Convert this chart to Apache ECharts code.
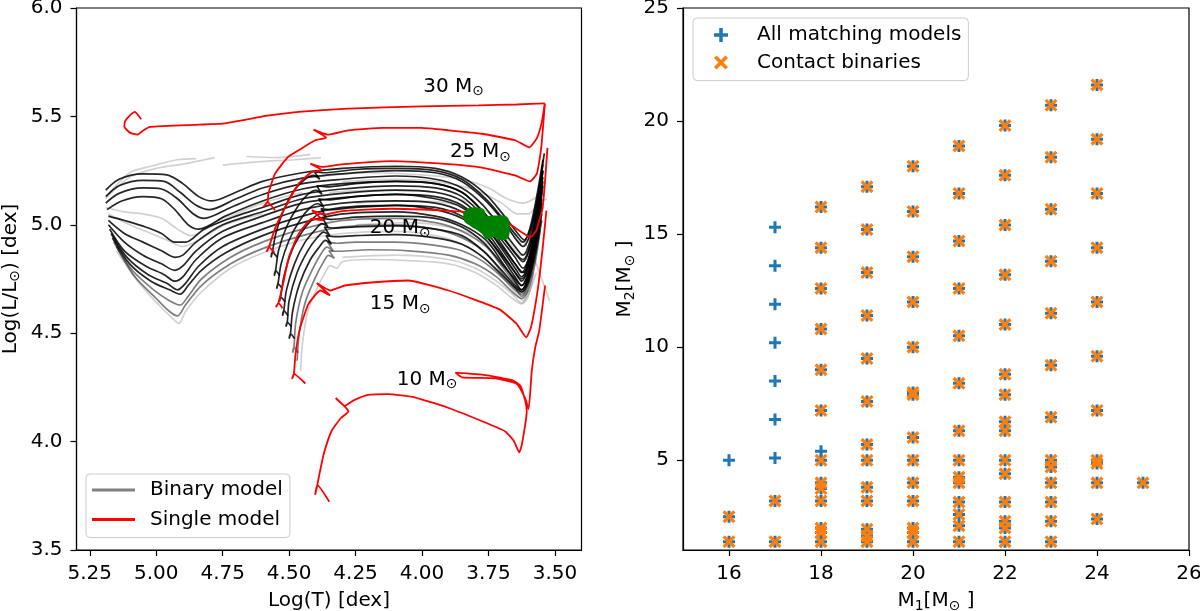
<!DOCTYPE html>
<html>
<head>
<meta charset="utf-8">
<script src="https://cdn.jsdelivr.net/npm/echarts@6.0.0/dist/echarts.min.js"></script>
<style>
  html, body { margin: 0; padding: 0; background: #fff; }
  #chart { width: 1200px; height: 611px; }
</style>
</head>
<body>
<div id="chart"></div>
<script>
// ---- left panel: HR diagram, [logT, logL] ----
var xTicksT = [3.5, 3.75, 4.0, 4.25, 4.5, 4.75, 5.0, 5.25];

var track30 = [[5.057,5.487],[5.080,5.521],[5.098,5.506],[5.117,5.478],[5.120,5.452],[5.098,5.424],[5.071,5.416],[5.049,5.435],[5.024,5.452],[4.837,5.462],[4.750,5.467],[4.676,5.482],[4.588,5.502],[4.464,5.521],[4.277,5.536],[4.003,5.546],[3.787,5.551],[3.644,5.555],[3.538,5.560]];
var track25 = [[4.553,5.067],[4.581,5.105],[4.597,5.082],[4.581,5.105],[4.578,5.144],[4.553,5.236],[4.504,5.313],[4.464,5.344],[4.402,5.390],[4.361,5.402],[4.408,5.439],[4.355,5.416],[4.277,5.436],[4.147,5.447],[4.003,5.447],[3.900,5.436],[3.775,5.420],[3.650,5.390],[3.596,5.357],[3.568,5.400],[3.550,5.470],[3.538,5.560]];
var track22 = [[4.555,4.872],[4.576,4.897],[4.585,4.875],[4.576,4.897],[4.551,4.989],[4.514,5.082],[4.464,5.190],[4.414,5.244],[4.377,5.251],[4.420,5.282],[4.377,5.267],[4.302,5.279],[4.116,5.294],[3.900,5.280],[3.775,5.264],[3.650,5.228],[3.594,5.200],[3.568,5.236],[3.552,5.350],[3.538,5.555]];
var track20 = [[4.525,4.615],[4.540,4.640],[4.550,4.620],[4.540,4.640],[4.520,4.743],[4.501,4.851],[4.464,4.959],[4.414,5.028],[4.371,5.020],[4.414,5.067],[4.364,5.048],[4.302,5.063],[4.116,5.074],[3.929,5.067],[3.838,5.059],[3.675,5.005],[3.625,4.966],[3.592,4.943],[3.570,4.974],[3.546,5.082],[3.528,5.355]];
var track15 = [[4.439,4.268],[4.482,4.312],[4.489,4.289],[4.482,4.312],[4.476,4.404],[4.458,4.527],[4.427,4.635],[4.383,4.697],[4.346,4.674],[4.396,4.731],[4.346,4.697],[4.290,4.720],[4.178,4.735],[4.053,4.743],[3.900,4.697],[3.712,4.612],[3.644,4.543],[3.608,4.481],[3.590,4.527],[3.565,4.697],[3.547,4.882],[3.532,5.065]];
var track10 = [[4.349,3.723],[4.394,3.800],[4.402,3.754],[4.394,3.800],[4.386,3.850],[4.370,3.942],[4.340,4.050],[4.305,4.109],[4.277,4.139],[4.325,4.201],[4.290,4.165],[4.259,4.189],[4.203,4.215],[4.128,4.219],[4.028,4.204],[3.900,4.155],[3.762,4.088],[3.687,4.047],[3.655,4.004],[3.634,3.950],[3.624,3.988],[3.606,4.142],[3.612,4.189],[3.630,4.258],[3.662,4.284],[3.762,4.307],[3.874,4.318],[3.849,4.296],[3.725,4.292],[3.643,4.266],[3.612,4.200],[3.599,4.150],[3.587,4.327],[3.574,4.435],[3.559,4.512],[3.537,4.720]];
var singleTracks = [track30, track25, track22, track20, track15, track10];

var massLabelPos = [[3.881,5.637],[3.780,5.335],[4.082,4.985],[4.082,4.635],[3.981,4.285]];
var massLabelText = ['30', '25', '20', '15', '10'];

// binary model tracks, darkest first
var darkTracks = [
  [[5.19,5.16],[5.14,5.21],[5.05,5.235],[4.96,5.23],[4.90,5.19],[4.84,5.13],[4.79,5.11],[4.70,5.15],[4.60,5.20],[4.45,5.24],[4.30,5.26],[4.10,5.27],[3.95,5.26],[3.85,5.22],[3.76,5.14],[3.69,5.04],[3.64,4.96],[3.615,4.93],[3.59,4.99],[3.565,5.13],[3.54,5.33]],
  [[5.19,5.13],[5.14,5.18],[5.05,5.205],[4.97,5.20],[4.91,5.15],[4.85,5.09],[4.80,5.07],[4.70,5.12],[4.60,5.17],[4.45,5.215],[4.30,5.235],[4.10,5.25],[3.95,5.24],[3.85,5.20],[3.76,5.11],[3.69,5.01],[3.645,4.93],[3.62,4.90],[3.595,4.95],[3.57,5.08],[3.545,5.28]],
  [[5.19,5.10],[5.14,5.145],[5.05,5.17],[4.98,5.165],[4.92,5.12],[4.86,5.05],[4.82,5.03],[4.72,5.08],[4.60,5.14],[4.45,5.19],[4.30,5.21],[4.10,5.225],[3.95,5.21],[3.85,5.17],[3.77,5.09],[3.70,4.98],[3.65,4.90],[3.62,4.86],[3.595,4.92],[3.57,5.06],[3.545,5.25]],
  [[5.185,5.07],[5.13,5.11],[5.05,5.13],[4.98,5.12],[4.93,5.07],[4.88,5.00],[4.84,4.98],[4.74,5.04],[4.60,5.11],[4.45,5.165],[4.30,5.19],[4.10,5.20],[3.95,5.19],[3.85,5.15],[3.77,5.06],[3.70,4.95],[3.65,4.87],[3.62,4.83],[3.595,4.89],[3.57,5.04],[3.545,5.22]],
  [[5.18,5.04],[5.12,5.02],[5.04,4.99],[4.98,4.96],[4.93,4.92],[4.89,4.92],[4.82,4.98],[4.70,5.04],[4.60,5.08],[4.45,5.14],[4.30,5.165],[4.10,5.18],[3.95,5.17],[3.85,5.13],[3.77,5.04],[3.70,4.93],[3.65,4.85],[3.62,4.80],[3.595,4.86],[3.57,5.00],[3.545,5.20]],
  [[5.18,5.02],[5.12,4.96],[5.05,4.92],[4.98,4.88],[4.93,4.85],[4.90,4.86],[4.85,4.92],[4.75,5.00],[4.60,5.06],[4.45,5.12],[4.30,5.145],[4.10,5.16],[3.95,5.15],[3.85,5.11],[3.76,5.01],[3.70,4.91],[3.65,4.82],[3.625,4.78],[3.60,4.84],[3.575,4.98],[3.55,5.17]],
  [[5.18,5.00],[5.12,4.92],[5.05,4.86],[4.98,4.82],[4.93,4.79],[4.90,4.81],[4.85,4.88],[4.75,4.97],[4.60,5.04],[4.45,5.10],[4.30,5.125],[4.10,5.14],[3.95,5.12],[3.85,5.08],[3.76,4.99],[3.70,4.89],[3.65,4.80],[3.625,4.76],[3.60,4.82],[3.575,4.96],[3.55,5.14]],
  [[5.175,4.98],[5.12,4.88],[5.04,4.81],[4.97,4.77],[4.93,4.74],[4.90,4.76],[4.85,4.84],[4.75,4.94],[4.60,5.01],[4.45,5.07],[4.30,5.10],[4.10,5.11],[3.95,5.10],[3.85,5.06],[3.76,4.97],[3.70,4.87],[3.65,4.78],[3.625,4.74],[3.60,4.80],[3.575,4.93],[3.55,5.12]],
  [[5.17,4.96],[5.11,4.85],[5.03,4.77],[4.96,4.73],[4.92,4.70],[4.89,4.73],[4.84,4.81],[4.75,4.90],[4.60,4.98],[4.45,5.04],[4.30,5.08],[4.10,5.09],[3.95,5.07],[3.85,5.03],[3.76,4.95],[3.70,4.85],[3.65,4.76],[3.625,4.72],[3.60,4.78],[3.575,4.92],[3.55,5.10]],
  [[5.165,4.94],[5.10,4.82],[5.02,4.74],[4.95,4.70],[4.91,4.68],[4.88,4.72],[4.83,4.79],[4.74,4.87],[4.60,4.95],[4.45,5.01],[4.30,5.05],[4.10,5.06],[3.95,5.04],[3.85,5.00],[3.76,4.93],[3.70,4.83],[3.65,4.74],[3.625,4.70],[3.60,4.76],[3.575,4.90],[3.55,5.08]],
  [[4.545,4.85],[4.563,4.874],[4.568,4.85],[4.563,4.874],[4.55,4.96],[4.52,5.07],[4.48,5.16],[4.44,5.21],[4.408,5.228],[4.385,5.21],[4.405,5.245],[4.37,5.24],[4.25,5.255],[4.10,5.26],[3.95,5.25],[3.85,5.21],[3.76,5.12],[3.69,5.02],[3.645,4.95],[3.62,4.92],[3.595,4.98],[3.57,5.12],[3.545,5.30]],
  [[4.535,4.765],[4.551,4.789],[4.556,4.765],[4.551,4.789],[4.54,4.88],[4.51,4.99],[4.47,5.08],[4.43,5.14],[4.399,5.159],[4.376,5.14],[4.396,5.18],[4.36,5.175],[4.25,5.19],[4.10,5.20],[3.95,5.19],[3.85,5.15],[3.77,5.06],[3.70,4.95],[3.65,4.87],[3.62,4.84],[3.595,4.90],[3.57,5.05],[3.545,5.25]],
  [[4.526,4.705],[4.542,4.728],[4.547,4.705],[4.542,4.728],[4.53,4.82],[4.50,4.93],[4.46,5.02],[4.42,5.08],[4.392,5.097],[4.369,5.08],[4.389,5.12],[4.355,5.115],[4.25,5.13],[4.10,5.14],[3.95,5.13],[3.85,5.09],[3.77,5.00],[3.70,4.90],[3.65,4.82],[3.62,4.78],[3.595,4.84],[3.57,4.99],[3.545,5.18]],
  [[4.516,4.645],[4.532,4.666],[4.537,4.645],[4.532,4.666],[4.52,4.76],[4.49,4.88],[4.45,4.97],[4.41,5.03],[4.383,5.051],[4.36,5.035],[4.38,5.075],[4.345,5.07],[4.25,5.08],[4.10,5.09],[3.95,5.08],[3.85,5.04],[3.77,4.96],[3.70,4.86],[3.65,4.78],[3.625,4.75],[3.60,4.81],[3.575,4.95],[3.55,5.15]],
  [[4.504,4.58],[4.520,4.604],[4.525,4.58],[4.520,4.604],[4.51,4.70],[4.48,4.82],[4.44,4.92],[4.40,4.98],[4.377,5.005],[4.354,4.99],[4.374,5.03],[4.34,5.025],[4.25,5.035],[4.10,5.04],[3.95,5.03],[3.85,4.99],[3.77,4.92],[3.70,4.82],[3.65,4.75],[3.625,4.72],[3.60,4.78],[3.575,4.92],[3.55,5.12]],
  [[4.491,4.53],[4.507,4.55],[4.512,4.53],[4.507,4.55],[4.50,4.65],[4.47,4.78],[4.43,4.88],[4.395,4.94],[4.370,4.966],[4.347,4.95],[4.367,4.99],[4.33,4.985],[4.25,4.99],[4.10,4.995],[3.95,4.98],[3.85,4.95],[3.77,4.88],[3.70,4.79],[3.65,4.72],[3.625,4.70],[3.60,4.76],[3.575,4.90],[3.55,5.08]],
  [[4.479,4.475],[4.495,4.497],[4.50,4.475],[4.495,4.497],[4.487,4.60],[4.46,4.73],[4.42,4.84],[4.385,4.90],[4.364,4.928],[4.341,4.91],[4.361,4.95],[4.325,4.945],[4.25,4.95],[4.10,4.955],[3.95,4.94],[3.85,4.91],[3.77,4.85],[3.70,4.77],[3.65,4.71],[3.625,4.69],[3.60,4.74],[3.575,4.87],[3.55,5.05]]
];
var midTracks = [
  [[4.466,4.41],[4.482,4.435],[4.487,4.41],[4.482,4.435],[4.475,4.55],[4.45,4.69],[4.41,4.80],[4.378,4.87],[4.358,4.897],[4.335,4.88],[4.355,4.92],[4.32,4.915],[4.25,4.92],[4.10,4.92],[3.95,4.905],[3.85,4.88],[3.77,4.83],[3.70,4.76],[3.65,4.70],[3.625,4.68],[3.60,4.73],[3.575,4.85],[3.55,5.02]],
  [[5.16,4.92],[5.09,4.79],[5.01,4.70],[4.95,4.65],[4.91,4.63],[4.88,4.67],[4.83,4.75],[4.72,4.85],[4.60,4.92],[4.45,4.98],[4.30,5.02],[4.10,5.03],[3.95,5.01],[3.85,4.97],[3.76,4.90],[3.70,4.81],[3.65,4.73],[3.625,4.69],[3.60,4.74],[3.575,4.88],[3.55,5.05]],
  [[5.15,4.90],[5.08,4.76],[5.00,4.66],[4.95,4.60],[4.92,4.58],[4.89,4.63],[4.83,4.72],[4.72,4.82],[4.60,4.89],[4.45,4.95],[4.30,4.99],[4.10,5.00],[3.95,4.98],[3.85,4.94],[3.76,4.87],[3.70,4.78],[3.65,4.71],[3.625,4.67],[3.60,4.72],[3.575,4.85],[3.55,5.02]],
  [[4.47,4.373],[4.462,4.50],[4.44,4.64],[4.40,4.76],[4.37,4.83],[4.352,4.859],[4.33,4.845],[4.35,4.88],[4.31,4.878],[4.20,4.885],[4.05,4.88],[3.90,4.86],[3.80,4.82],[3.72,4.76],[3.66,4.69],[3.625,4.66],[3.60,4.70],[3.575,4.82],[3.555,4.98]]
];
var faintTracks = [
  [[5.15,4.88],[5.07,4.74],[4.99,4.63],[4.94,4.57],[4.915,4.545],[4.89,4.60],[4.83,4.69],[4.72,4.80],[4.60,4.87],[4.45,4.93],[4.30,4.96],[4.10,4.97],[3.95,4.95],[3.85,4.91],[3.76,4.84],[3.70,4.76],[3.65,4.69],[3.62,4.65],[3.60,4.70]],
  [[5.19,5.12],[5.10,5.22],[5.00,5.26],[4.90,5.28],[4.78,5.31]],
  [[5.18,5.14],[5.10,5.24],[5.02,5.27],[4.92,5.30],[4.85,5.305]],
  [[4.66,5.315],[4.55,5.31],[4.42,5.325]],
  [[4.75,5.275],[4.62,5.29],[4.48,5.30],[4.38,5.31]],
  [[5.19,5.08],[5.12,5.06],[5.05,5.05],[4.98,5.03],[4.92,4.98],[4.87,4.95],[4.80,4.99],[4.70,5.05],[4.60,5.10],[4.45,5.15]],
  [[5.18,5.05],[5.10,5.00],[5.02,4.96],[4.96,4.93],[4.90,4.90],[4.84,4.93],[4.74,5.00],[4.60,5.05]],
  [[4.457,4.327],[4.45,4.45],[4.43,4.60],[4.39,4.72],[4.36,4.79],[4.346,4.812],[4.32,4.80],[4.30,4.83],[4.20,4.84],[4.05,4.835],[3.90,4.82],[3.80,4.78],[3.72,4.72],[3.66,4.66],[3.625,4.635],[3.60,4.67],[3.58,4.78]],
  [[4.40,5.22],[4.20,5.24],[4.00,5.23],[3.85,5.21],[3.75,5.17],[3.68,5.12],[3.62,5.10],[3.58,5.12],[3.55,5.15]],
  [[4.30,5.20],[4.10,5.21],[3.95,5.20],[3.80,5.16],[3.70,5.10],[3.64,5.05],[3.60,5.05],[3.56,5.10],[3.53,5.12]],
  [[4.35,5.15],[4.15,5.16],[3.95,5.15],[3.82,5.10],[3.72,5.03],[3.66,4.96],[3.63,4.92],[3.59,4.94],[3.55,5.05]],
  [[4.30,4.85],[4.10,4.86],[3.90,4.84],[3.80,4.80],[3.72,4.74],[3.66,4.68],[3.625,4.64],[3.60,4.68],[3.57,4.78]],
  [[3.62,4.93],[3.58,4.85],[3.55,4.75],[3.52,4.65]],
  [[4.25,5.10],[4.05,5.11],[3.90,5.10],[3.80,5.06],[3.72,4.99],[3.66,4.90],[3.63,4.86],[3.60,4.88],[3.57,4.98],[3.545,5.15]],
  [[4.25,5.00],[4.05,5.01],[3.90,4.99],[3.80,4.95],[3.72,4.88],[3.66,4.81],[3.63,4.78],[3.60,4.80],[3.57,4.92],[3.545,5.08]]
];

// observed star region
var greenBlob = [[3.836,5.059],[3.804,5.074],[3.773,5.067],[3.761,5.036],[3.730,5.036],[3.686,5.033],[3.676,5.005],[3.680,4.943],[3.705,4.936],[3.730,4.951],[3.755,4.940],[3.773,4.966],[3.811,4.997],[3.836,5.020]];

// ---- right panel: M1 vs M2 ----
var m1Ticks = [16, 18, 20, 22, 24, 26];
var m2Ticks = [5, 10, 15, 20, 25];
var matchingOnly = [[16,5.0],[17,15.3],[17,13.6],[17,11.9],[17,10.2],[17,8.5],[17,6.8],[17,5.1],[18,5.4]];
var contactBinaries = [
  [16,2.5],[16,1.4],
  [17,3.2],[17,1.4],
  [18,16.2],[18,14.4],[18,12.6],[18,10.8],[18,9.0],[18,7.2],[18,5.0],[18,4.0],[18,3.75],[18,3.2],[18,2.0],[18,1.8],[18,1.4],
  [19,17.1],[19,15.2],[19,13.3],[19,11.4],[19,9.5],[19,7.6],[19,5.7],[19,5.0],[19,3.8],[19,3.2],[19,1.95],[19,1.65],[19,1.4],
  [20,18.0],[20,16.0],[20,14.0],[20,12.0],[20,10.0],[20,8.0],[20,7.9],[20,6.0],[20,5.0],[20,4.0],[20,3.2],[20,2.0],[20,1.8],[20,1.4],
  [21,18.9],[21,16.8],[21,14.7],[21,12.6],[21,10.5],[21,8.4],[21,6.3],[21,5.0],[21,4.25],[21,4.0],[21,3.15],[21,2.6],[21,2.1],[21,1.4],
  [22,19.8],[22,17.6],[22,15.4],[22,13.2],[22,11.0],[22,8.8],[22,7.9],[22,6.7],[22,6.3],[22,5.0],[22,4.4],[22,3.15],[22,2.3],[22,2.0],[22,1.4],
  [23,20.7],[23,18.4],[23,16.1],[23,13.8],[23,11.5],[23,9.2],[23,6.9],[23,5.0],[23,4.7],[23,4.0],[23,3.15],[23,2.3],[23,1.4],
  [24,21.6],[24,19.2],[24,16.8],[24,14.4],[24,12.0],[24,9.6],[24,7.2],[24,5.0],[24,4.85],[24,4.0],[24,2.4],
  [25,4.0]
];

var FONT = 'DejaVu Sans';
var FS = 20;
var plusPath = 'path://M3.75,0H6.25V3.75H10V6.25H6.25V10H3.75V6.25H0V3.75H3.75Z';
var crossPath = 'path://M0,1.8L1.8,0L10,8.2L8.2,10Z M8.2,0L10,1.8L1.8,10L0,8.2Z';

var richSub = {
    n: { fontFamily: FONT, fontSize: FS, color: '#000', lineHeight: 24, textBorderWidth: 0 },
    s: { fontFamily: FONT, fontSize: 14, color: '#000', lineHeight: 10, verticalAlign: 'bottom', textBorderWidth: 0 }
};

function axisCommon() {
    return {
        type: 'value',
        axisLine: { show: true, onZero: false, lineStyle: { color: '#000', width: 1.2 } },
        axisTick: { show: true, length: 6, lineStyle: { color: '#000', width: 1.2 } },
        splitLine: { show: false },
        axisLabel: { color: '#000', fontFamily: FONT, fontSize: FS },
        nameLocation: 'middle',
        nameTextStyle: { rich: richSub }
    };
}

var myChart = echarts.init(document.getElementById('chart'), null, { renderer: 'canvas' });

var series = [];
function addTracks(list, color, width) {
    list.forEach(function(tr) {
        series.push({
            name: 'Binary model', type: 'line', xAxisIndex: 0, yAxisIndex: 0,
            data: tr, showSymbol: false, symbol: 'none', silent: true, smooth: 0.3,
            lineStyle: { color: color, width: width }, z: 2
        });
    });
}
addTracks(faintTracks, 'rgba(0,0,0,0.18)', 1.7);
addTracks(midTracks, 'rgba(0,0,0,0.5)', 1.7);
addTracks(darkTracks, 'rgba(0,0,0,0.85)', 1.7);

singleTracks.forEach(function(tr) {
    series.push({
        name: 'Single model', type: 'line', xAxisIndex: 0, yAxisIndex: 0,
        data: tr, showSymbol: false, symbol: 'none', silent: true, smooth: 0.15,
        lineStyle: { color: '#ff0000', width: 1.8 }, z: 3
    });
});

series.push({
    name: 'mass labels', type: 'scatter', xAxisIndex: 0, yAxisIndex: 0,
    data: massLabelPos, symbolSize: 0, itemStyle: { color: 'transparent', opacity: 1 }, silent: true, z: 5,
    label: {
        show: true, position: 'inside', opacity: 1,
        color: '#000', textBorderWidth: 0,
        formatter: function(p) { return '{n|' + massLabelText[p.dataIndex] + ' M}{s|⊙}'; },
        rich: richSub
    }
});

series.push({
    name: 'observed', type: 'custom', xAxisIndex: 0, yAxisIndex: 0,
    data: [greenBlob[0]], silent: true, z: 6,
    renderItem: function(params, api) {
        var pts = greenBlob.map(function(p) { return api.coord(p); });
        return {
            type: 'polygon',
            shape: { points: pts, smooth: 0.35 },
            style: { fill: '#008000', stroke: '#008000', lineWidth: 3, lineJoin: 'round' }
        };
    }
});

series.push({
    name: 'All matching models', type: 'scatter', xAxisIndex: 1, yAxisIndex: 1,
    data: matchingOnly.concat(contactBinaries),
    symbol: plusPath, symbolSize: 12, silent: true,
    itemStyle: { color: '#1f77b4', opacity: 1 }
});
series.push({
    name: 'Contact binaries', type: 'scatter', xAxisIndex: 1, yAxisIndex: 1,
    data: contactBinaries,
    symbol: crossPath, symbolSize: 13, silent: true,
    itemStyle: { color: '#ff7f0e', opacity: 1 }
});

var xLeft = axisCommon();
xLeft.gridIndex = 0; xLeft.inverse = true; xLeft.min = 3.40; xLeft.max = 5.30;
xLeft.axisTick.customValues = xTicksT;
xLeft.axisLabel.customValues = xTicksT;
xLeft.axisLabel.margin = 14;
xLeft.axisLabel.formatter = function(v) { return v.toFixed(2); };
xLeft.name = '{n|Log(T) [dex]}'; xLeft.nameGap = 39;

var yLeft = axisCommon();
yLeft.gridIndex = 0; yLeft.min = 3.5; yLeft.max = 6.0; yLeft.interval = 0.5;
yLeft.axisLabel.margin = 14;
yLeft.axisLabel.formatter = function(v) { return v.toFixed(1); };
yLeft.name = '{n|Log(L/L}{s|⊙}{n|) [dex]}'; yLeft.nameGap = 54;

var xRight = axisCommon();
xRight.gridIndex = 1; xRight.min = 15; xRight.max = 26;
xRight.axisTick.customValues = m1Ticks;
xRight.axisLabel.customValues = m1Ticks;
xRight.axisLabel.margin = 14;
xRight.name = '{n|M}{s|1}{n|[M}{s|⊙}{n| ]}'; xRight.nameGap = 39;

var yRight = axisCommon();
yRight.gridIndex = 1; yRight.min = 1.03; yRight.max = 25;
yRight.axisTick.customValues = m2Ticks;
yRight.axisLabel.customValues = m2Ticks;
yRight.axisLabel.margin = 14;
yRight.name = '{n|M}{s|2}{n|[M}{s|⊙}{n| ]}'; yRight.nameGap = 46;

var legendBox = {
    orient: 'vertical',
    backgroundColor: 'rgba(255,255,255,0.8)',
    borderColor: '#cccccc', borderWidth: 1, borderRadius: 4,
    selectedMode: false
};

var option = {
    backgroundColor: '#fff',
    animation: false,
    grid: [
        { left: 76.5, top: 8, width: 505, height: 542, show: true, borderColor: '#000', borderWidth: 1.2, backgroundColor: '#fff', containLabel: false, outerBoundsMode: 'none' },
        { left: 683, top: 8, width: 506, height: 542, show: true, borderColor: '#000', borderWidth: 1.2, backgroundColor: '#fff', containLabel: false, outerBoundsMode: 'none' }
    ],
    xAxis: [xLeft, xRight],
    yAxis: [yLeft, yRight],
    legend: [
        echarts.util.extend({
            left: 86, top: 474,
            padding: [6, 7, 8, 6],
            itemWidth: 43, itemHeight: 3, itemGap: 9.5,
            textStyle: { fontFamily: FONT, fontSize: FS, color: '#000', lineHeight: 20, padding: [0, 0, 0, 10] },
            data: [
                { name: 'Binary model', icon: 'rect', itemStyle: { color: '#808080' } },
                { name: 'Single model', icon: 'rect', itemStyle: { color: '#ff0000' } }
            ]
        }, legendBox),
        echarts.util.extend({
            left: 693, top: 18,
            padding: [7, 7, 8, 21],
            itemWidth: 14, itemHeight: 14, itemGap: 7.6,
            textStyle: { fontFamily: FONT, fontSize: FS, color: '#000', lineHeight: 20, padding: [0, 0, 0, 24] },
            data: [
                { name: 'All matching models', icon: plusPath, itemStyle: { color: '#1f77b4' } },
                { name: 'Contact binaries', icon: crossPath, itemStyle: { color: '#ff7f0e' } }
            ]
        }, legendBox)
    ],
    series: series
};
myChart.setOption(option);
</script>
</body>
</html>
